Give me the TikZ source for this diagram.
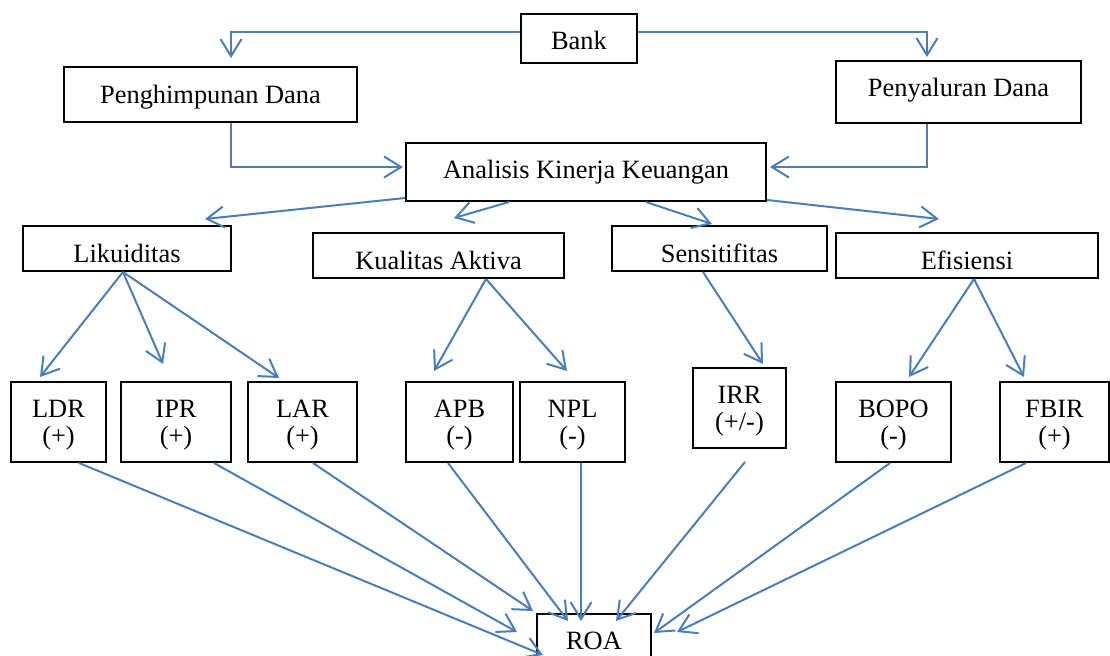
\documentclass[tikz,border=0pt]{standalone}
\usepackage{fontspec}
\setmainfont{Liberation Serif}
\usetikzlibrary{arrows.meta}
\definecolor{linkblue}{HTML}{4A7EBB}

\begin{document}
\begin{tikzpicture}[x=0.5pt,y=-0.5pt,
	box/.style={draw,line width=1pt,inner sep=0pt,align=center,
		font=\fontsize{13.2}{13.5}\selectfont},
	topbox/.style={box,text height=12pt},
	katbox/.style={box,text height=14pt,text depth=0pt,minimum height=22.5pt},
	rasio/.style={box,text height=24pt,text depth=1.5pt,minimum height=40pt},
	arr/.style={linkblue,line width=1pt,-{Straight Barb[length=8.5pt,width=10.5pt]}}]
	\useasboundingbox (0,0) rectangle (1110,655);

	%top boxes
	\node[topbox,text depth=1.5pt,minimum width=58pt,minimum height=24.5pt] (bank) at (579,38.5) {Bank};
	\node[topbox,text depth=3.5pt,minimum width=146.5pt,minimum height=27.5pt] (hdana) at (210.5,94.5) {Penghimpunan Dana};
	\node[topbox,text depth=8pt,minimum width=122.5pt,minimum height=31pt] (sdana) at (958.5,92) {Penyaluran Dana};
	\node[topbox,text depth=6pt,minimum width=180pt,minimum height=29pt] (analisis) at (586,172) {Analisis Kinerja Keuangan};

	%kategori
	\node[katbox,minimum width=104pt] (lik) at (127,248.5) {Likuiditas};
	\node[katbox,minimum width=125.5pt] (kual) at (438.5,255.5) {Kualitas Aktiva};
	\node[katbox,minimum width=107.5pt] (sens) at (719.5,248.5) {Sensitifitas};
	\node[katbox,minimum width=131pt] (efis) at (967,255.5) {Efisiensi};

	%rasio
	\node[rasio,minimum width=47.5pt] (ldr) at (58.5,422) {LDR\\(+)};
	\node[rasio,minimum width=55pt] (ipr) at (176,422) {IPR\\(+)};
	\node[rasio,minimum width=54.5pt] (lar) at (302.5,422) {LAR\\(+)};
	\node[rasio,minimum width=53.5pt] (apb) at (459.5,422) {APB\\(-)};
	\node[rasio,minimum width=52.5pt] (npl) at (572.5,422) {NPL\\(-)};
	\node[rasio,minimum width=46.5pt] (irr) at (739.5,408) {IRR\\(+/-)};
	\node[rasio,minimum width=57.5pt] (bopo) at (893.5,422) {BOPO\\(-)};
	\node[rasio,minimum width=54.5pt] (fbir) at (1054.5,422) {FBIR\\(+)};

	%roa
	\node[topbox,text depth=4.5pt,minimum width=57pt,minimum height=28pt] (roa) at (594,642) {ROA};

	%bank arrows
	\draw[arr] ([yshift=3.25pt]bank.west) -| ([xshift=10.25pt,yshift=4pt]hdana.north); %to penghimpunan
	\draw[arr] ([yshift=3.25pt]bank.east) -| ([xshift=-15.75pt,yshift=1.5pt]sdana.north); %to penyaluran
	\draw[arr] ([xshift=10.25pt]hdana.south) |- ([xshift=-1pt,yshift=2.5pt]analisis.west); %penghimpunan to analisis
	\draw[arr] ([xshift=-15.75pt]sdana.south) |- ([xshift=1.5pt,yshift=2.5pt]analisis.east); %penyaluran to analisis

	%analisis arrows
	\draw[arr] ([yshift=2pt]analisis.south west) -- ([xshift=39pt,yshift=3pt]lik.north);
	\draw[arr] ([xshift=-38.5pt]analisis.south) -- ([xshift=7.75pt,yshift=7pt]kual.north);
	\draw[arr] ([xshift=30pt]analisis.south) -- ([xshift=-3.75pt,yshift=0.5pt]sens.north);
	\draw[arr] ([yshift=1pt]analisis.south east) -- ([xshift=-14pt,yshift=6.5pt]efis.north);

	%kategori arrows
	\draw[arr] ([xshift=-2pt]lik.south) -- ([xshift=-9.25pt,yshift=2pt]ldr.north);
	\draw[arr] ([xshift=-2pt]lik.south) -- ([xshift=-6.5pt,yshift=8.5pt]ipr.north);
	\draw[arr] ([xshift=-2pt]lik.south) -- ([xshift=-11.75pt,yshift=1.5pt]lar.north);
	\draw[arr] ([xshift=23.75pt]kual.south) -- ([xshift=-12.75pt,yshift=5pt]apb.north);
	\draw[arr] ([xshift=23.75pt]kual.south) -- ([xshift=-2.75pt,yshift=5pt]npl.north);
	\draw[arr] ([xshift=-8.25pt]sens.south) -- ([xshift=11.75pt,yshift=1.5pt]irr.north);
	\draw[arr] ([xshift=3.5pt]efis.south) -- ([xshift=7.75pt,yshift=2pt]bopo.north);
	\draw[arr] ([xshift=3.5pt]efis.south) -- ([xshift=-15.25pt,yshift=2pt]fbir.north);

	%rasio to roa
	\draw[arr] ([xshift=10.25pt]ldr.south) -- ([xshift=-25.5pt,yshift=-21pt]roa.north);
	\draw[arr] ([xshift=19pt]ipr.south) -- ([xshift=-38.5pt,yshift=-9.5pt]roa.north);
	\draw[arr] ([xshift=5.25pt]lar.south) -- ([xshift=-30.5pt,yshift=1pt]roa.north);
	\draw[arr] ([xshift=-5.75pt]apb.south) -- ([xshift=-13pt,yshift=-4pt]roa.north);
	\draw[arr] ([xshift=4.25pt]npl.south) -- ([xshift=-6.5pt,yshift=-4pt]roa.north);
	\draw[arr] ([xshift=2.75pt,yshift=-6.5pt]irr.south) -- ([xshift=11pt,yshift=-4pt]roa.north);
	\draw[arr] ([xshift=-1.75pt]bopo.south) -- ([xshift=30pt,yshift=-10pt]roa.north);
	\draw[arr] ([xshift=-14.25pt]fbir.south) -- ([xshift=41.5pt,yshift=-9.5pt]roa.north);
\end{tikzpicture}
\end{document}
